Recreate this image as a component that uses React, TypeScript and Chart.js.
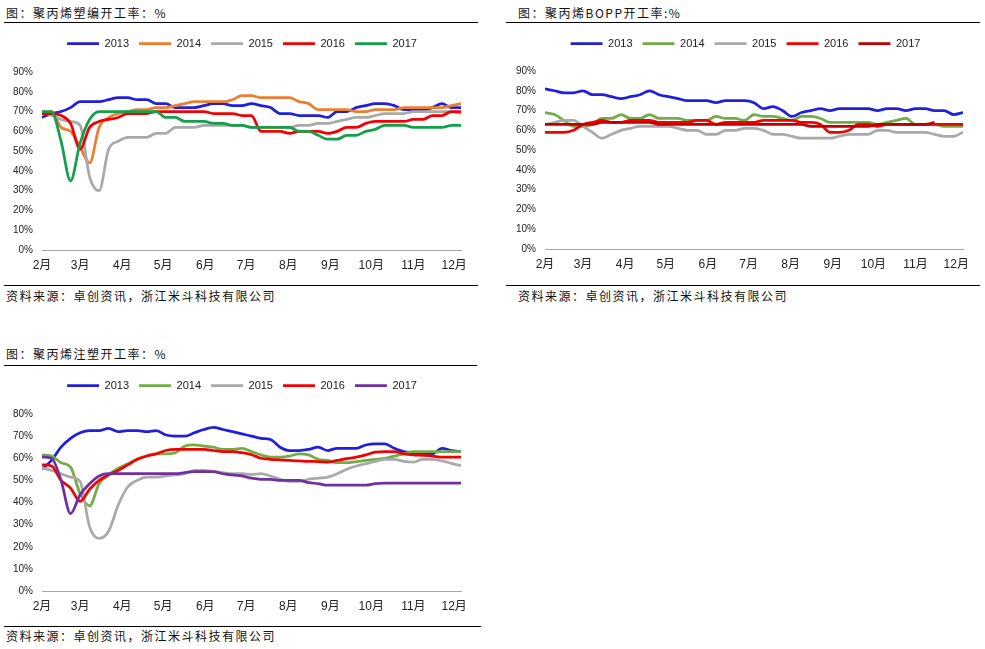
import React, { useEffect, useRef } from 'react';
import { Chart, registerables } from 'chart.js';

Chart.register(...registerables);

// ---- data ----
const DAYS = [32, 39, 46, 53, 60, 67, 74, 81, 88, 95, 102, 109, 116, 123, 130, 137, 144, 151, 158, 165, 172, 179, 186, 193, 200, 207, 214, 221, 228, 235, 242, 249, 256, 263, 270, 277, 284, 291, 298, 305, 312, 319, 326, 333, 340];
const MONTH_DAYS = [32, 60, 91, 121, 152, 182, 213, 244, 274, 305, 335];
const MONTH_LABELS = ['2月', '3月', '4月', '5月', '6月', '7月', '8月', '9月', '10月', '11月', '12月'];
const YEARS = ['2013', '2014', '2015', '2016', '2017'];

// 聚丙烯塑编开工率
const WEAVE_2013 = [67, 69, 70, 72, 75, 75, 75, 76, 77, 77, 76, 76, 74, 74, 72, 72, 72, 73, 74, 74, 73, 73, 74, 73, 72, 69, 69, 68, 68, 68, 67, 70, 70, 72, 73, 74, 74, 73, 71, 71, 71, 72, 74, 72, 72];
const WEAVE_2014 = [69, 70, 62, 60, 52, 44, 62, 67, 69, 70, 71, 71, 72, 72, 73, 74, 75, 75, 75, 75, 76, 78, 78, 77, 77, 77, 77, 75, 74, 71, 71, 71, 71, 70, 70, 71, 71, 71, 72, 72, 72, 72, 72, 73, 74];
const WEAVE_2015 = [70, 68, 66, 65, 63, 37, 30, 51, 55, 57, 57, 57, 59, 59, 62, 62, 62, 63, 63, 63, 63, 63, 62, 62, 62, 62, 62, 63, 63, 64, 64, 65, 66, 67, 67, 68, 69, 69, 69, 70, 70, 70, 70, 70, 69];
const WEAVE_2016 = [69, 69, 68, 64, 51, 62, 65, 66, 67, 69, 69, 69, 70, 70, 70, 70, 70, 70, 69, 69, 69, 68, 68, 60, 60, 60, 59, 60, 60, 60, 59, 60, 62, 62, 64, 65, 65, 65, 65, 66, 66, 68, 68, 70, 70];
const WEAVE_2017 = [70, 70, 55, 35, 54, 66, 70, 70, 70, 70, 70, 70, 70, 67, 67, 65, 65, 65, 64, 64, 63, 63, 62, 62, 62, 62, 62, 60, 60, 58, 56, 56, 58, 58, 60, 61, 63, 63, 63, 62, 62, 62, 62, 63, 63];

// 聚丙烯BOPP开工率
const BOPP_2013 = [81, 80, 79, 79, 80, 78, 78, 77, 76, 77, 78, 80, 78, 77, 76, 75, 75, 75, 74, 75, 75, 75, 74, 71, 72, 70, 67, 69, 70, 71, 70, 71, 71, 71, 71, 70, 71, 71, 70, 71, 71, 70, 70, 68, 69];
const BOPP_2014 = [69, 68, 65, 62, 62, 63, 66, 66, 68, 66, 66, 68, 66, 66, 66, 65, 65, 65, 67, 66, 66, 65, 68, 67, 67, 66, 65, 67, 67, 66, 64, 64, 64, 64, 64, 63, 64, 65, 66, 63, 63, 63, 62, 62, 62];
const BOPP_2015 = [63, 64, 65, 65, 62, 59, 56, 58, 60, 61, 62, 62, 62, 62, 61, 60, 60, 58, 58, 60, 60, 61, 61, 60, 58, 58, 57, 56, 56, 56, 56, 57, 58, 58, 58, 60, 60, 59, 59, 59, 59, 58, 57, 57, 59];
const BOPP_2016 = [59, 59, 59, 60, 63, 64, 65, 64, 64, 65, 65, 65, 64, 64, 64, 64, 65, 65, 63, 64, 64, 64, 64, 65, 65, 65, 65, 64, 64, 63, 59, 59, 60, 63, 63, 62, 63, 63, 63, 63, 63, 63, 63, 63, 63];
const BOPP_2017 = [63, 63, 63, 63, 63, 63, 64, 64, 64, 64, 64, 64, 63, 63, 63, 63, 63, 63, 63, 63, 63, 63, 63, 63, 63, 63, 63, 63, 62, 62, 62, 62, 62, 62, 62, 63, 63, 63, 63, 63, 63, 64, null, null, null];

// 聚丙烯注塑开工率
const INJ_2013 = [55, 59, 65, 69, 71.5, 72.5, 72.5, 73.5, 72, 72.5, 72.5, 72, 72.5, 70.5, 70, 70, 71.5, 73, 74, 73, 72, 71, 70, 69, 68.5, 65, 63.5, 63.5, 64, 65, 63.5, 64.5, 64.5, 64.5, 66, 66.5, 66.5, 64.5, 63, 62.5, 62, 62, 64.5, 63.5, 63];
const INJ_2014 = [61.5, 61, 58, 56, 44, 38.5, 48.5, 52.5, 55.5, 57.5, 59.5, 61, 62, 62, 62.5, 65.5, 66, 65.5, 65, 64, 64, 64.5, 63, 61.5, 60.5, 60.5, 61, 62, 61.5, 59.5, 59, 58, 58, 58.5, 59, 59.5, 60, 61, 62, 63, 63, 63, 63, 63, 63];
const INJ_2015 = [55.5, 54.5, 53, 51.5, 49.5, 29, 23.8, 27, 38.8, 47, 50, 51.5, 51.5, 52, 52.5, 53, 54.5, 54.5, 54, 53.5, 53, 53, 52.6, 53, 52, 50.5, 49.5, 49.5, 50.5, 51, 51.5, 53, 55, 56.5, 57.5, 58.6, 59.5, 59.5, 58.6, 58.3, 59.5, 59.5, 58.8, 57.7, 56.6];
const INJ_2016 = [57, 56.5, 50, 46.5, 40.5, 46, 50, 52.5, 54.5, 57, 59.5, 61, 62, 63.5, 64, 64, 64, 64, 63.5, 63, 63, 62.5, 61.6, 60, 59.5, 59.3, 59, 58.8, 58.6, 58.5, 58.3, 59, 59.8, 60.5, 61.5, 62.8, 63, 63, 62, 61.5, 61.3, 61, 60.5, 60.5, 60.5];
const INJ_2017 = [60.5, 60, 50, 35, 43.5, 48.5, 52, 53, 53, 53, 53, 53, 53, 53, 53, 53.5, 54, 54, 54, 53, 52.5, 52, 51, 50.5, 50.5, 50, 50, 50, 49, 48.5, 47.8, 47.8, 47.8, 47.8, 47.8, 48.5, 48.8, 48.8, 48.8, 48.8, 48.8, 48.8, 48.8, 48.8, 48.8];

const TITLE_1 = '图：聚丙烯塑编开工率：%';
const TITLE_2 = '图：聚丙烯BOPP开工率:%';
const TITLE_3 = '图：聚丙烯注塑开工率：%';
const SOURCE = '资料来源：卓创资讯，浙江米斗科技有限公司';

// ---- styles ----
const BLUE = '#2020DC';
const ORANGE = '#ED7D31';
const GRAY = '#A9A9A9';
const RED = '#F40000';
const GREEN_DARK = '#14A04A';
const GREEN = '#70AD47';
const DARK_RED = '#C00000';
const PURPLE = '#7030A0';

const AXIS_FONT = '"Liberation Sans", "Noto Sans CJK SC", sans-serif';
const CJK_FONT = '"Noto Sans CJK SC", sans-serif';

type Spec = {
  series: (number | null)[][];
  colors: string[];
  yMax: number;
  left: number;
  top: number;
  width: number;
  height: number;
  yWidth: number;
  rightWidth: number;
  legendGap: number;
};

function LineChart({ spec }: { spec: Spec }) {
  const ref = useRef<HTMLCanvasElement>(null);
  useEffect(() => {
    if (!ref.current) return;
    const gap = spec.legendGap;
    const chart = new Chart(ref.current, {
      type: 'line',
      data: {
        datasets: YEARS.map((year, i) => ({
          label: year,
          data: DAYS.map((d, k) => ({ x: d, y: spec.series[i][k] as number })).filter(
            (p) => p.y !== null && p.y !== undefined
          ),
          borderColor: spec.colors[i],
          backgroundColor: spec.colors[i],
          borderWidth: 2.75,
          pointRadius: 0,
          pointHoverRadius: 0,
          tension: 0.4,
          cubicInterpolationMode: 'monotone' as const,
          order: YEARS.length - i,
          fill: false,
          yAxisID: 'y',
        })),
      },
      options: {
        responsive: false,
        animation: false,
        events: [],
        layout: { padding: 0 },
        plugins: {
          tooltip: { enabled: false },
          legend: {
            position: 'top',
            labels: {
              usePointStyle: true,
              pointStyle: 'line',
              pointStyleWidth: 32,
              padding: 10,
              color: '#222',
              font: { size: 11, family: AXIS_FONT },
              sort: (a: any, b: any) => a.datasetIndex - b.datasetIndex,
            },
          },
        },
        scales: {
          x: {
            type: 'linear',
            min: 32,
            max: 340,
            afterBuildTicks: (s: any) => {
              s.ticks = MONTH_DAYS.map((v) => ({ value: v }));
            },
            afterFit: (s: any) => {
              s.height = 32;
            },
            grid: { display: false, drawTicks: false },
            border: { display: true, color: '#a6a6a6', width: 1 },
            ticks: {
              autoSkip: false,
              maxRotation: 0,
              padding: 8,
              color: '#222',
              font: { size: 12, family: AXIS_FONT },
              callback: (v: any) => {
                const k = MONTH_DAYS.indexOf(Number(v));
                return k >= 0 ? MONTH_LABELS[k] : '';
              },
            },
          },
          y: {
            position: 'left',
            min: 0,
            max: spec.yMax,
            afterFit: (s: any) => {
              s.width = spec.yWidth;
            },
            grid: { display: false, drawTicks: false },
            border: { display: false },
            ticks: {
              stepSize: 10,
              padding: 9,
              color: '#222',
              font: { size: 10, family: AXIS_FONT },
              callback: (v: any) => v + '%',
            },
          },
          yRight: {
            position: 'right',
            display: true,
            min: 0,
            max: spec.yMax,
            afterFit: (s: any) => {
              s.width = spec.rightWidth;
            },
            grid: { display: false, drawTicks: false },
            border: { display: false },
            ticks: { display: false },
          },
        },
      },
      plugins: [
        {
          id: 'legendGap',
          beforeInit(c: any) {
            const lg = c.legend;
            if (!lg) return;
            const fit = lg.fit;
            lg.fit = function () {
              fit.call(lg);
              lg.height += gap;
            };
          },
        },
      ],
    } as any);
    return () => chart.destroy();
  }, []);
  return (
    <canvas
      ref={ref}
      width={spec.width}
      height={spec.height}
      style={{ position: 'absolute', left: spec.left, top: spec.top, display: 'block' }}
    />
  );
}

function Text({ x, y, text }: { x: number; y: number; text: string }) {
  return (
    <div
      style={{
        position: 'absolute',
        left: x,
        top: y - 8,
        fontSize: 12,
        lineHeight: '16px',
        letterSpacing: '1.5px',
        whiteSpace: 'nowrap',
        fontFamily: CJK_FONT,
        color: '#111',
      }}
    >
      {text}
    </div>
  );
}

function Rule({ x1, x2, y }: { x1: number; x2: number; y: number }) {
  return <div style={{ position: 'absolute', left: x1, top: y, width: x2 - x1, height: 1, background: '#000' }} />;
}

const SPEC_1: Spec = {
  series: [WEAVE_2013, WEAVE_2014, WEAVE_2015, WEAVE_2016, WEAVE_2017],
  colors: [BLUE, ORANGE, GRAY, RED, GREEN_DARK],
  yMax: 90,
  left: 0,
  top: 28,
  width: 484,
  height: 254,
  yWidth: 42,
  rightWidth: 23,
  legendGap: 13,
};

const SPEC_2: Spec = {
  series: [BOPP_2013, BOPP_2014, BOPP_2015, BOPP_2016, BOPP_2017],
  colors: [BLUE, GREEN, GRAY, RED, DARK_RED],
  yMax: 90,
  left: 506,
  top: 28,
  width: 479,
  height: 253,
  yWidth: 39,
  rightWidth: 22,
  legendGap: 12,
};

const SPEC_3: Spec = {
  series: [INJ_2013, INJ_2014, INJ_2015, INJ_2016, INJ_2017],
  colors: [BLUE, GREEN, GRAY, RED, PURPLE],
  yMax: 80,
  left: 0,
  top: 370,
  width: 484,
  height: 253,
  yWidth: 42,
  rightWidth: 23,
  legendGap: 13,
};

export default function App() {
  return (
    <div style={{ position: 'fixed', left: 0, top: 0, width: 985, height: 649, background: '#fff', overflow: 'hidden' }}>
      <Text x={6} y={12.5} text={TITLE_1} />
      <Rule x1={4} x2={478} y={22} />
      <LineChart spec={SPEC_1} />
      <Rule x1={4} x2={478} y={285} />
      <Text x={6} y={296} text={SOURCE} />

      <Text x={518} y={12.5} text={TITLE_2} />
      <Rule x1={506} x2={980} y={22} />
      <LineChart spec={SPEC_2} />
      <Rule x1={506} x2={980} y={285} />
      <Text x={518} y={296} text={SOURCE} />

      <Text x={6} y={354} text={TITLE_3} />
      <Rule x1={4} x2={477} y={365} />
      <LineChart spec={SPEC_3} />
      <Rule x1={4} x2={481} y={626} />
      <Text x={6} y={635.5} text={SOURCE} />
    </div>
  );
}
